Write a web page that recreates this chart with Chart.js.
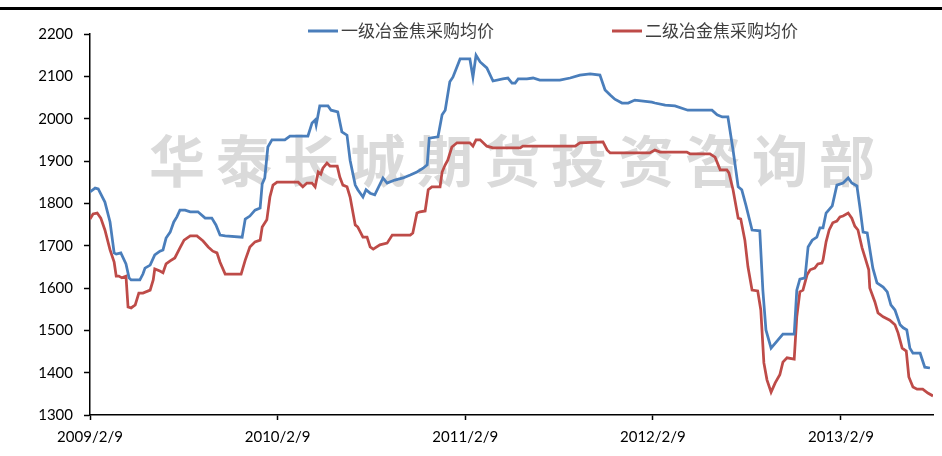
<!DOCTYPE html>
<html>
<head>
<meta charset="utf-8">
<script src="https://cdn.jsdelivr.net/npm/chart.js@4"></script>
<style>
  html, body { margin: 0; padding: 0; background: #fff; }
  canvas { display: block; }
</style>
</head>
<body>
<canvas id="coke-chart" width="942" height="456"></canvas>
<script>
// days counted from 2009/2/9
const tickDays = [0, 365, 730, 1095, 1461];
const tickLabels = ['2009/2/9', '2010/2/9', '2011/2/9', '2012/2/9', '2013/2/9'];

const blueLabel = '一级冶金焦采购均价';
const blueDays = [0,10,16,29,39,47,51,60,70,76,
  80,97,103,107,117,126,136,142,148,156,
  163,169,175,185,195,210,224,237,245,253,
  263,296,302,311,321,331,335,340,346,354,
  379,389,424,432,438,440,447,463,469,482,
  490,500,506,516,521,531,537,545,554,570,
  578,593,609,623,636,648,656,660,677,685,
  691,700,706,720,739,745,751,759,772,784,
  803,813,821,827,833,850,862,875,914,934,
  953,973,992,1002,1012,1021,1035,1047,1060,1093,
  1099,1119,1138,1163,1210,1220,1230,1241,1251,1261,
  1268,1276,1288,1303,1309,1315,1325,1348,1370,1375,
  1381,1391,1397,1405,1414,1420,1426,1432,1444,1453,
  1465,1475,1482,1492,1498,1504,1512,1523,1531,1543,
  1551,1558,1566,1576,1582,1589,1595,1601,1615,1624,
  1634];
const blueValues = [1827,1836,1834,1803,1756,1683,1680,1683,1657,1624,
  1619,1619,1633,1647,1654,1678,1687,1690,1718,1732,
  1756,1768,1784,1784,1780,1780,1765,1765,1749,1725,
  1723,1720,1763,1770,1784,1789,1846,1860,1933,1950,
  1950,1959,1959,1990,1997,1985,2030,2030,2020,2016,
  1969,1961,1902,1843,1832,1815,1832,1824,1820,1860,
  1848,1855,1860,1867,1874,1883,1891,1954,1957,2009,
  2020,2087,2098,2141,2141,2098,2150,2134,2120,2089,
  2094,2096,2084,2084,2094,2094,2096,2091,2091,2096,
  2103,2106,2103,2068,2056,2046,2037,2037,2044,2039,
  2037,2032,2030,2020,2020,2009,2004,2004,1926,1839,
  1832,1796,1737,1735,1595,1501,1458,1491,1491,1595,
  1621,1624,1697,1713,1720,1742,1742,1777,1794,1843,
  1848,1860,1848,1841,1789,1732,1730,1647,1612,1602,
  1591,1560,1548,1513,1506,1501,1458,1446,1446,1413,
  1411];

const redLabel = '二级冶金焦采购均价';
const redDays = [0,6,14,21,29,39,47,51,56,62,
  70,74,80,88,95,103,117,123,126,136,
  142,148,156,165,175,183,195,208,220,230,
  239,247,253,263,294,302,311,321,331,335,
  344,350,356,364,405,414,422,432,438,444,
  449,453,461,467,481,486,492,500,506,516,
  521,531,539,545,551,564,578,588,623,628,
  636,642,652,658,665,681,685,691,696,704,
  714,739,745,751,759,772,784,837,842,944,
  953,998,1006,1012,1089,1099,1109,1161,1167,1206,
  1216,1226,1239,1243,1251,1261,1266,1274,1280,1288,
  1299,1305,1311,1317,1325,1333,1342,1348,1356,1370,
  1375,1381,1387,1395,1401,1410,1416,1424,1426,1432,
  1438,1445,1453,1459,1465,1475,1482,1488,1494,1502,
  1508,1515,1517,1527,1533,1543,1556,1566,1572,1580,
  1588,1593,1601,1609,1620,1630,1640];
const redValues = [1763,1775,1777,1765,1737,1690,1661,1628,1628,1624,
  1628,1555,1553,1560,1588,1588,1595,1619,1645,1640,
  1636,1657,1664,1671,1695,1713,1723,1723,1711,1697,
  1687,1683,1661,1633,1633,1666,1697,1709,1713,1744,
  1761,1815,1843,1850,1850,1839,1848,1848,1839,1874,
  1869,1883,1895,1888,1888,1862,1843,1839,1815,1749,
  1744,1720,1720,1697,1692,1702,1706,1725,1725,1730,
  1777,1780,1782,1832,1839,1839,1874,1891,1902,1933,
  1943,1943,1935,1950,1950,1935,1931,1931,1935,1935,
  1943,1945,1926,1919,1919,1926,1921,1921,1917,1917,
  1909,1879,1879,1872,1832,1765,1763,1713,1650,1595,
  1593,1548,1423,1383,1354,1376,1395,1425,1435,1432,
  1532,1591,1595,1631,1643,1647,1657,1659,1666,1709,
  1737,1754,1758,1768,1770,1777,1765,1746,1737,1695,
  1671,1643,1600,1567,1541,1532,1524,1513,1494,1458,
  1451,1390,1366,1361,1361,1352,1345];

const watermark = '华泰长城期货投资咨询部';

function toPoints(days, values) {
    return days.map((d, i) => ({ x: d, y: values[i] }));
}

// watermark, top rule and the legend are drawn by hand
const decorPlugin = {
    id: 'decor',
    beforeDatasetsDraw(chart) {
        const ctx = chart.ctx;
        ctx.save();
        ctx.fillStyle = '#dadada';
        ctx.font = 'bold 56px "Noto Sans CJK SC"';
        ctx.textAlign = 'center';
        ctx.textBaseline = 'middle';
        [...watermark].forEach((ch, i) => ctx.fillText(ch, 177 + i * 67, 161));
        ctx.restore();
    },
    afterDraw(chart) {
        const ctx = chart.ctx;
        ctx.save();
        ctx.fillStyle = '#000';
        ctx.fillRect(0, 7, 942, 3);

        ctx.font = '17px "Noto Sans CJK SC"';
        ctx.textBaseline = 'middle';
        ctx.fillStyle = '#404040';
        const items = [[308, chart.data.datasets[0]], [612, chart.data.datasets[1]]];
        items.forEach(([x, ds]) => {
            ctx.strokeStyle = ds.borderColor;
            ctx.lineWidth = 3;
            ctx.beginPath();
            ctx.moveTo(x, 31);
            ctx.lineTo(x + 30, 31);
            ctx.stroke();
            ctx.fillText(ds.label, x + 33, 31);
        });
        ctx.restore();
    }
};

const tickFont = { family: 'Lato', size: 15 };

new Chart(document.getElementById('coke-chart').getContext('2d'), {
    type: 'line',
    data: {
        datasets: [{
            label: blueLabel,
            data: toPoints(blueDays, blueValues),
            borderColor: '#4a7ebb',
            borderWidth: 2.75,
            pointRadius: 0,
            tension: 0
        }, {
            label: redLabel,
            data: toPoints(redDays, redValues),
            borderColor: '#be4b48',
            borderWidth: 2.75,
            pointRadius: 0,
            tension: 0
        }]
    },
    options: {
        responsive: false,
        animation: false,
        devicePixelRatio: 1,
        layout: { padding: { top: 34, right: 9, left: 0, bottom: 0 } },
        plugins: { legend: { display: false }, tooltip: { enabled: false } },
        scales: {
            x: {
                type: 'linear',
                min: 0,
                max: 1640,
                afterBuildTicks: s => { s.ticks = tickDays.map(v => ({ value: v })); },
                afterFit: s => { s.height = 41; },
                ticks: {
                    callback: (v, i) => tickLabels[i],
                    autoSkip: false,
                    maxRotation: 0,
                    color: '#000',
                    font: tickFont,
                    padding: 8
                },
                grid: { drawOnChartArea: false, tickLength: 5, tickColor: '#000', tickWidth: 1.5 },
                border: { color: '#000', width: 1.5 }
            },
            y: {
                min: 1300,
                max: 2200,
                afterFit: s => { s.width = 90; },
                ticks: {
                    stepSize: 100,
                    callback: v => String(v),
                    color: '#000',
                    font: tickFont,
                    padding: 11
                },
                grid: { drawOnChartArea: false, tickLength: 6, tickColor: '#000', tickWidth: 1.5 },
                border: { color: '#000', width: 1.5 }
            }
        }
    },
    plugins: [decorPlugin]
});
</script>
</body>
</html>
